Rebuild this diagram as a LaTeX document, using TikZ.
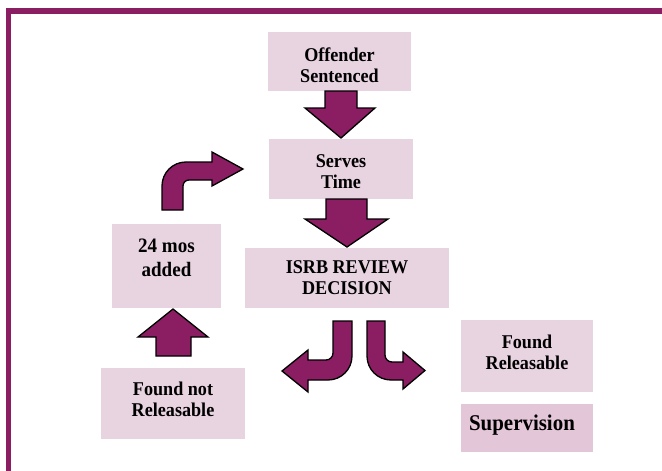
\documentclass[tikz,border=0pt]{standalone}
\usepackage{fontspec}
\setmainfont{Liberation Serif}
\newfontfamily\boxfont[FakeStretch=0.93]{Liberation Serif}
\usetikzlibrary{positioning}

\definecolor{plum}{HTML}{8B1D62}
\definecolor{boxpink}{HTML}{E8D3E0}
\definecolor{superpink}{HTML}{E3C6D8}

\begin{document}
\begin{tikzpicture}[x=1pt, y=-1pt,
  box/.style = {shape=rectangle, fill=boxpink, inner sep=0pt},
  boxtext/.style = {align=center, font=\boxfont\fontsize{19.5}{21}\selectfont\bfseries},
  bigarrow/.style = {fill=plum, draw=black, line width=1.3pt, line join=miter}
  ]
  \useasboundingbox (0,0) rectangle (662,471);
  % frame
  \fill[plum] (6,8) rectangle (662,14);
  \fill[plum] (6,8) rectangle (11,471);

  % boxes
  \node[box, minimum width=143pt, minimum height=59pt,
    label={[boxtext, yshift=-4pt]center:Offender\\Sentenced}] (offender) at (339.5,61.5) {};
  \node[box, minimum width=144pt, minimum height=60pt,
    label={[boxtext, yshift=-3pt]center:Serves\\Time}] (serves) at (341,169) {};
  \node[box, minimum width=204pt, minimum height=60pt,
    label={[boxtext]center:ISRB REVIEW\\DECISION}] (isrb) at (347,278) {};
  \node[box, minimum width=109pt, minimum height=84pt,
    label={[boxtext, font=\boxfont\fontsize{20.5}{24}\selectfont\bfseries, yshift=8pt]center:24 mos\\added}] (mos) at (166.5,266) {};
  \node[box, minimum width=144pt, minimum height=71pt,
    label={[boxtext, yshift=4pt]center:Found not\\Releasable}] (notrel) at (173,403.5) {};
  \node[box, minimum width=132pt, minimum height=72pt,
    label={[boxtext, yshift=4pt]center:Found\\Releasable}] (found) at (527,356) {};
  \node[box, fill=superpink, minimum width=132pt, minimum height=48pt,
    label={[boxtext, font=\boxfont\fontsize{22.5}{24}\selectfont\bfseries, xshift=-5pt, yshift=3pt]center:Supervision}] (super) at (527,428) {};

  % straight arrows
  \draw[bigarrow] (325,91) -- (357,91) -- (357,108) -- (375,108) -- (341,138)
    -- (305,108) -- (325,108) -- cycle;
  \draw[bigarrow] (326,199) -- (367,199) -- (367,219) -- (388,219) -- (347,247)
    -- (305,219) -- (326,219) -- cycle;
  \draw[bigarrow] (156,356) -- (191,356) -- (191,337) -- (208,337) -- (173,309)
    -- (138,337) -- (156,337) -- cycle;

  % bent arrows
  \draw[bigarrow] (162,210) -- (162,186) .. controls (162,172.7) and (172.7,162) .. (186,162)
    -- (212,162) -- (212,152) -- (243,169) -- (212,186) -- (212,180) -- (189,180)
    .. controls (185.7,180) and (183,182.7) .. (183,186) -- (183,210) -- cycle;
  \draw[bigarrow] (333,321) -- (352,321) -- (352,356) .. controls (352,369.3) and (341.3,380) .. (328,380)
    -- (308,380) -- (308,392) -- (282,371) -- (308,350) -- (308,360) -- (326,360)
    .. controls (329.9,360) and (333,356.9) .. (333,353) -- cycle;
  \draw[bigarrow] (367,321) -- (385,321) -- (385,355) .. controls (385,358.9) and (388.1,362) .. (392,362)
    -- (403,362) -- (403,352) -- (425,370.5) -- (403,389) -- (403,380) -- (391,380)
    .. controls (377.7,380) and (367,369.3) .. (367,356) -- cycle;
\end{tikzpicture}
\end{document}
